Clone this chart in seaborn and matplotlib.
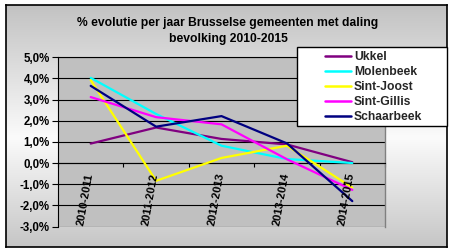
import numpy as np
import pandas as pd
import matplotlib
matplotlib.use("Agg")
import matplotlib.pyplot as plt
from matplotlib.patches import Rectangle
from matplotlib.lines import Line2D
from matplotlib.colors import LinearSegmentedColormap
from matplotlib.transforms import offset_copy
import seaborn as sns

periods = ["2010-2011", "2011-2012", "2012-2013", "2013-2014", "2014-2015"]
ukkel = [0.92, 1.68, 1.14, 0.88, 0.04]
molenbeek = [4.03, 2.32, 0.82, 0.19, 0.00]
sint_joost = [3.92, -0.84, 0.24, 0.82, -1.16]
sint_gillis = [3.12, 2.17, 1.83, 0.18, -1.27]
schaarbeek = [3.65, 1.72, 2.22, 0.93, -1.80]
names = ["Ukkel", "Molenbeek", "Sint-Joost", "Sint-Gillis", "Schaarbeek"]
colors = ["#800080", "#00FFFF", "#FFFF00", "#FF00FF", "#000080"]
yticks = [-3, -2, -1, 0, 1, 2, 3, 4, 5]
title = "% evolutie per jaar Brusselse gemeenten met daling\nbevolking 2010-2015"

series = [ukkel, molenbeek, sint_joost, sint_gillis, schaarbeek]
df = pd.DataFrame({
    "periode": np.tile(np.arange(len(periods)), len(names)),
    "gemeente": np.repeat(names, len(periods)),
    "waarde": np.concatenate(series),
})

sns.set_theme(style="white")
plt.rcParams["font.family"] = ["Liberation Sans", "DejaVu Sans"]
plt.rcParams["font.weight"] = "bold"

W, H = 453, 252
fig = plt.figure(figsize=(W / 100, H / 100), dpi=100)
fig.patch.set_facecolor("white")

# outer chart area with vertical gradient
bx0, bx1, by0, by1 = 6, 447, 5, 247
bg = fig.add_axes([bx0 / W, 1 - by1 / H, (bx1 - bx0) / W, (by1 - by0) / H], zorder=0)
cmap = LinearSegmentedColormap.from_list(
    "g", [(0.0, "#c2c2c2"), (0.55, "#fbfbfb"), (1.0, "#c6c6c6")])
grad = np.linspace(0, 1, 256).reshape(-1, 1)
bg.imshow(grad, aspect="auto", cmap=cmap, extent=[0, 1, 1, 0], vmin=0, vmax=1)
bg.set_xticks([]); bg.set_yticks([])
for s in bg.spines.values():
    s.set_color("black"); s.set_linewidth(1.2)

# plot area
px0, px1, py0, py1 = 58, 385, 57.3, 226.5
ax = fig.add_axes([px0 / W, 1 - py1 / H, (px1 - px0) / W, (py1 - py0) / H], zorder=2)
ax.set_facecolor("#c0c0c0")

sns.lineplot(data=df, x="periode", y="waarde", hue="gemeente", hue_order=names,
             palette=dict(zip(names, colors)), ax=ax, legend=False, linewidth=1.6,
             zorder=3)

ax.set_xlim(-0.5, len(periods) - 0.5)
ax.set_ylim(min(yticks), max(yticks))
ax.set_yticks(yticks)
ax.set_yticklabels([f"{v:.1f}".replace(".", ",") + "%" for v in yticks],
                   fontsize=8.3, fontweight="bold")
ax.set_xticks(np.arange(len(periods) + 1) - 0.5)
ax.set_xticklabels([])
ax.set_xlabel(""); ax.set_ylabel("")
ax.grid(axis="y", color="black", lw=0.8)
ax.grid(axis="x", visible=False)
ax.set_axisbelow(True)
ax.tick_params(axis="y", direction="out", length=4, width=0.8, color="black",
               left=True, pad=2, labelcolor="black")
ax.tick_params(axis="x", direction="out", length=3, width=0.8, color="black", bottom=True)
ax.spines["bottom"].set_position(("data", 0))
ax.spines["bottom"].set_color("black"); ax.spines["bottom"].set_linewidth(0.8)
ax.spines["left"].set_color("black"); ax.spines["left"].set_linewidth(0.8)
ax.spines["top"].set_color("black"); ax.spines["top"].set_linewidth(0.8)
ax.spines["right"].set_color("#808080"); ax.spines["right"].set_linewidth(1.0)

tr = offset_copy(ax.transData, fig=fig, x=-1, y=-10, units="dots")
for i, p in enumerate(periods):
    ax.text(i, 0, p, transform=tr, rotation=80, rotation_mode="anchor",
            ha="right", va="center", fontsize=8, fontweight="bold", color="black",
            zorder=4)

fig.text(228 / W, 1 - 31 / H, title, ha="center", va="center", fontsize=8.7,
         fontweight="bold", linespacing=1.45, color="black")

# legend box
fig.patches.append(Rectangle((297 / W, 1 - 126 / H), (447 - 297) / W, (126 - 47) / H,
                             transform=fig.transFigure, facecolor="white",
                             edgecolor="black", lw=1.0, zorder=5))
handles = [Line2D([], [], color=c, lw=1.8) for c in colors]
leg = fig.legend(handles, names, loc="upper left",
                 bbox_to_anchor=(325 / W, 1 - 51 / H), frameon=False,
                 borderaxespad=0, borderpad=0, handlelength=2.15,
                 handletextpad=0.25, labelspacing=0.25,
                 prop={"size": 8.7, "weight": "bold"})
leg.set_zorder(6)

fig.savefig("out.png", dpi=100)
